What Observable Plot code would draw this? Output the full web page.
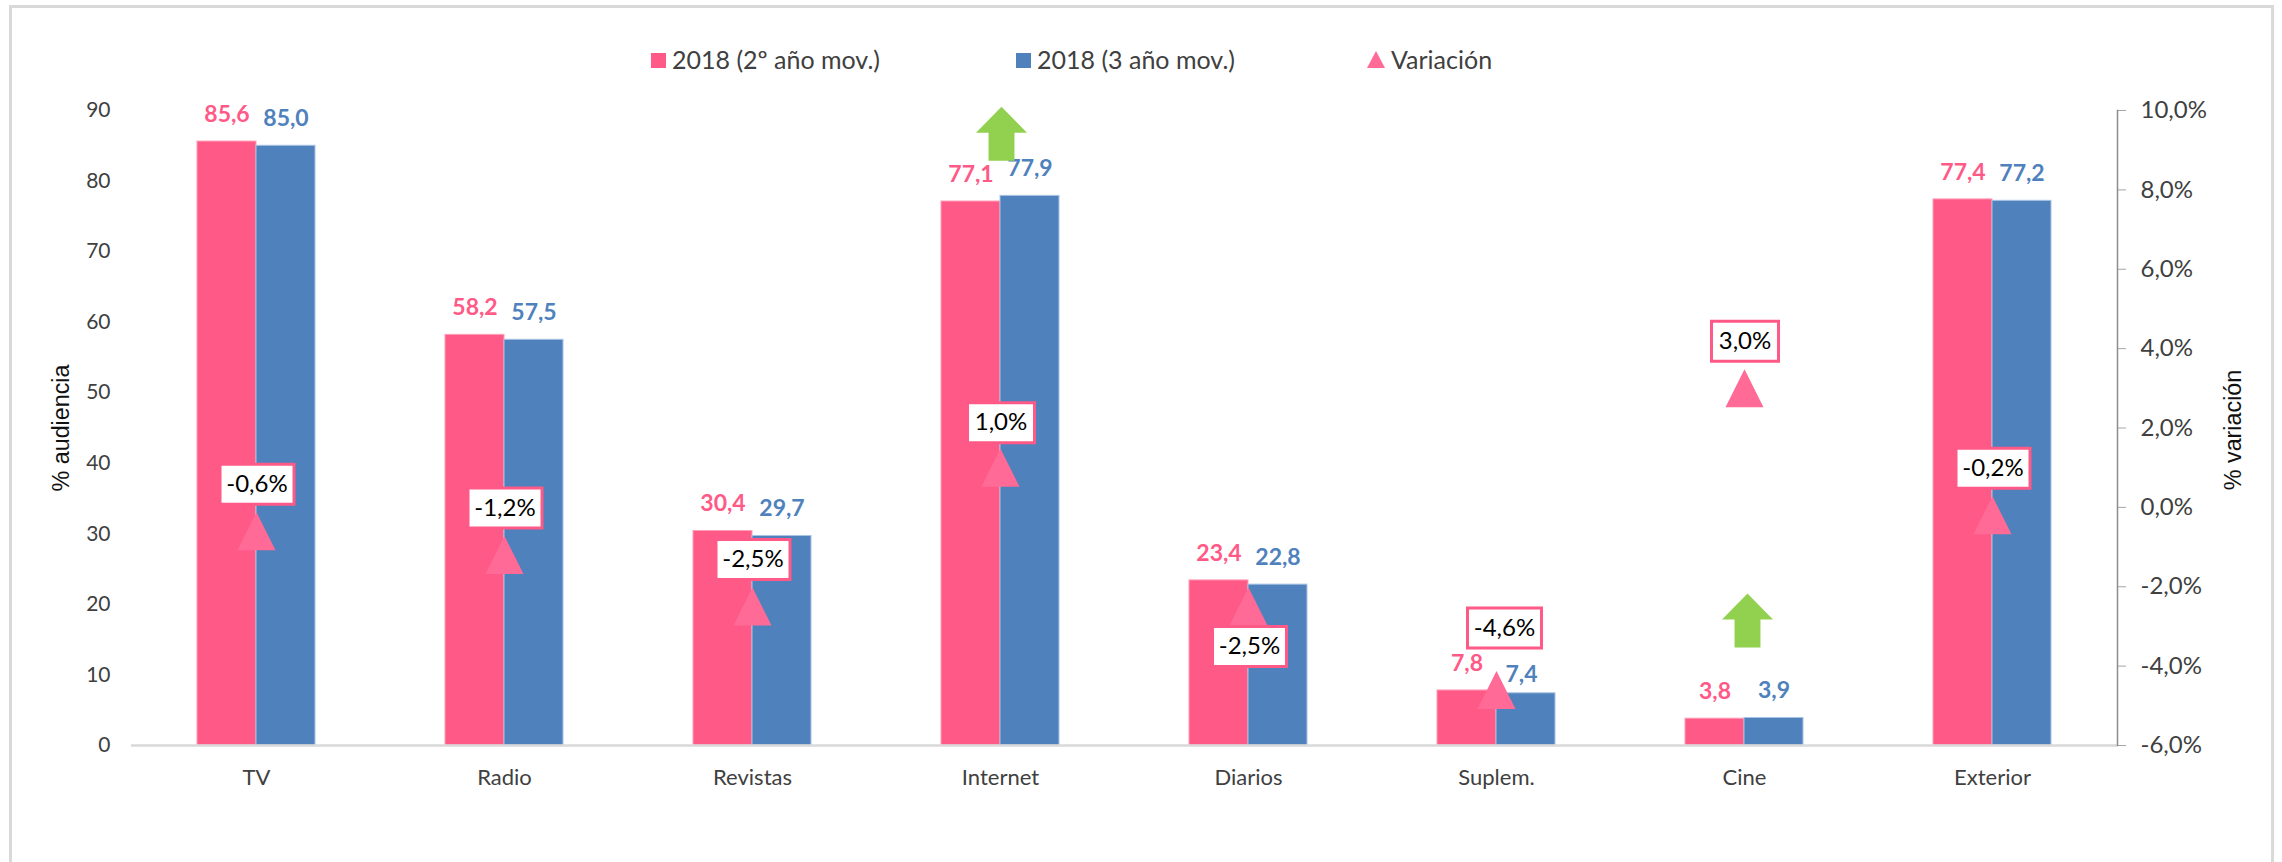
<!DOCTYPE html>
<html><head><meta charset="utf-8">
<script src="https://cdn.jsdelivr.net/npm/d3@7"></script>
<script src="https://cdn.jsdelivr.net/npm/@observablehq/plot@0.6"></script>
<style>
html,body{margin:0;padding:0;background:#fff;width:2282px;height:862px;overflow:hidden;position:relative}
#frame{position:absolute;left:9px;top:5px;width:2259px;height:900px;border:3px solid #d9d9d9;box-sizing:content-box}
#chart{position:absolute;left:0;top:0}
.lg{position:absolute;top:45px;font:25px Lato;color:#404040;white-space:nowrap;line-height:28px}
.sw{position:absolute;width:15px;height:15px;top:53px}
.tri{position:absolute;top:51px;width:0;height:0;border-left:9.5px solid transparent;border-right:9.5px solid transparent;border-bottom:17px solid #ff6b96}
</style></head><body>
<div id="frame"></div>
<div id="chart"></div>
<div class="sw" style="left:651px;background:#ff5a87"></div><div class="lg" style="left:672px">2018 (2º año mov.)</div>
<div class="sw" style="left:1016px;background:#4f81bd"></div><div class="lg" style="left:1037px">2018 (3 año mov.)</div>
<div class="tri" style="left:1367px"></div><div class="lg" style="left:1391px">Variación</div>
<script>
const categories = ["TV","Radio","Revistas","Internet","Diarios","Suplem.","Cine","Exterior"];
const serie2 = [85.6,58.2,30.4,77.1,23.4,7.8,3.8,77.4];
const serie3 = [85.0,57.5,29.7,77.9,22.8,7.4,3.9,77.2];
const variacion = [-0.6,-1.2,-2.5,1.0,-2.5,-4.6,3.0,-0.2];
const leftTicks = [0,10,20,30,40,50,60,70,80,90];
const rightTicks = [-6,-4,-2,0,2,4,6,8,10];
const arrowCats = ["Internet","Cine"];
const arrowLevels = [86.7,17.7];

const PINK="#ff5a87", BLUE="#4f81bd", TRI="#ff6b96", GREEN="#92d14f";
const toLeft = d3.scaleLinear([-6,10],[0,90]);
const fromLeft = toLeft.invert;
const comma = (v,n=1)=>v.toFixed(n).replace(".",",");
const rows = categories.map((c,i)=>({c,a:serie2[i],b:serie3[i],v:variacion[i],y:toLeft(variacion[i])}));

const triangle = {draw(ctx,size){const r=Math.sqrt(size/Math.PI);ctx.moveTo(0,-r);ctx.lineTo(r,r);ctx.lineTo(-r,r);ctx.closePath();}};
const box = w => ({draw(ctx,size){const r=Math.sqrt(size/Math.PI),k=w/2;ctx.moveTo(-k,-r);ctx.lineTo(k,-r);ctx.lineTo(k,r);ctx.lineTo(-k,r);ctx.closePath();}});
const upArrow = {draw(ctx,size){const r=Math.sqrt(size/Math.PI);const hw=r*0.944,sw=r*0.48,t=-r,m=-r+r*0.963,b=r;
  ctx.moveTo(0,t);ctx.lineTo(hw,m);ctx.lineTo(sw,m);ctx.lineTo(sw,b);ctx.lineTo(-sw,b);ctx.lineTo(-sw,m);ctx.lineTo(-hw,m);ctx.closePath();}};

function tag(data,dx,dy){
  return data.flatMap(d=>{
    const w=d.v<0?74:67;
    return [
      Plot.dot([d],{x:"c",y:"y",r:20,symbol:box(w),fill:"#fff",stroke:PINK,strokeWidth:3,dx,dy}),
      Plot.text([d],{x:"c",y:"y",text:r=>comma(r.v)+"%",fill:"#000",fontSize:24,dx,dy})
    ];
  });
}

const arrows = arrowCats.map((c,i)=>({c,y:arrowLevels[i]}));
const isLow = d=>d.c==="Suplem.";
const plot = Plot.plot({
  width:2282,height:862,marginLeft:131,marginRight:165,marginTop:110,marginBottom:117,
  style:{fontFamily:"Lato",fontSize:"21px",color:"#404040",background:"transparent"},
  x:{domain:categories,paddingInner:0.525,paddingOuter:0.2625,align:0.5,label:null},
  y:{domain:[0,90],label:null},
  marks:[
    Plot.barY(rows,{x:"c",y:"a",fill:PINK,stroke:"#ff9db7",strokeWidth:1,insetRight:59}),
    Plot.barY(rows,{x:"c",y:"b",fill:BLUE,stroke:"#a9c3e3",strokeWidth:1,insetLeft:59}),
    Plot.ruleY([0],{stroke:"#d9d9d9",strokeWidth:2.5}),
    Plot.axisX({tickSize:0,tickPadding:24,fontSize:22,label:null}),
    Plot.axisY(leftTicks,{anchor:"left",tickSize:0,tickPadding:21,label:null}),
    Plot.axisY(rightTicks.map(toLeft),{anchor:"right",tickSize:8,tickPadding:15,fontSize:24,stroke:"#a6a6a6",label:null,
      tickFormat:v=>comma(fromLeft(v))+"%",textAnchor:"start"}),
    Plot.frame({anchor:"right",stroke:"#8c8c8c",strokeWidth:1.5}),
    Plot.text(rows,{x:"c",y:"a",text:d=>comma(d.a),fill:PINK,fontWeight:700,fontSize:23,dx:-29.5,dy:-27}),
    Plot.text(rows.filter(d=>!isLow(d)),{x:"c",y:"b",text:d=>comma(d.b),fill:BLUE,fontWeight:700,fontSize:23,dx:29.5,dy:-27}),
    Plot.text(rows.filter(isLow),{x:"c",y:"b",text:d=>comma(d.b),fill:BLUE,fontWeight:700,fontSize:23,dx:25,dy:-19}),
    Plot.dot(rows,{x:"c",y:"y",r:19,symbol:triangle,fill:TRI}),
    Plot.dot(arrows.slice(0,1),{x:"c",y:"y",r:27,symbol:upArrow,fill:GREEN,dx:1}),
    Plot.dot(arrows.slice(1),{x:"c",y:"y",r:27,symbol:upArrow,fill:GREEN,dx:3}),
    ...tag(rows.filter(d=>!["Diarios","Suplem.","Internet"].includes(d.c)),0.5,-47),
    ...tag(rows.filter(d=>d.c==="Internet"),0.5,-45),
    ...tag(rows.filter(d=>d.c==="Diarios"),1,40),
    ...tag(rows.filter(isLow),8,-62),
    Plot.text(["% audiencia"],{frameAnchor:"left",textAnchor:"middle",text:d=>d,rotate:-90,dx:-70,fontFamily:"Liberation Sans",fontSize:23.3,fill:"#111"}),
    Plot.text(["% variación"],{frameAnchor:"right",textAnchor:"middle",text:d=>d,rotate:-90,dx:116,dy:2,fontFamily:"Liberation Sans",fontSize:23.3,fill:"#111"})
  ]
});
document.getElementById("chart").append(plot);
</script>
</body></html>
